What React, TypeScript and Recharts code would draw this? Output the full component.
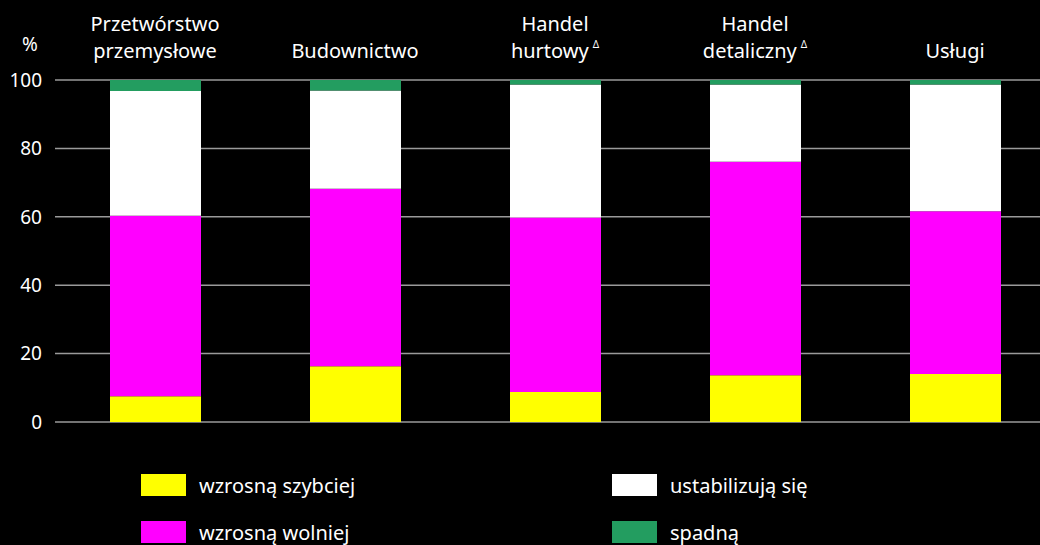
import { Bar, BarChart, CartesianGrid, Legend, XAxis, YAxis } from "recharts";

const categories = ["Przetwórstwo przemysłowe", "Budownictwo", "Handel hurtowy", "Handel detaliczny", "Usługi"];
const labelLines = [["Przetwórstwo", "przemysłowe"], ["Budownictwo"], ["Handel", "hurtowy"], ["Handel", "detaliczny"], ["Usługi"]];
const labelMarkers = [false, false, true, true, false];

const fasterValues = [7.5, 16.3, 8.8, 13.7, 14.0];
const slowerValues = [52.8, 51.9, 51.0, 62.4, 47.6];
const stableValues = [36.5, 28.7, 38.9, 22.6, 37.1];
const fallValues = [3.2, 3.1, 1.3, 1.3, 1.3];

const yTicks = [0, 20, 40, 60, 80, 100];

const series = [
  { key: "faster", name: "wzrosną szybciej", color: "#ffff00" },
  { key: "slower", name: "wzrosną wolniej", color: "#ff00ff" },
  { key: "stable", name: "ustabilizują się", color: "#ffffff" },
  { key: "fall", name: "spadną", color: "#239d60" },
];

const data = categories.map((name, i) => ({
  name,
  faster: fasterValues[i],
  slower: slowerValues[i],
  stable: stableValues[i],
  fall: fallValues[i],
}));

const FONT = "'Noto Sans', sans-serif";

function CategoryTick({ x, payload, index }: any) {
  const i = payload?.index ?? index;
  const lines = labelLines[i] || [payload.value];
  const last = lines.length - 1;
  return (
    <g>
      {lines.map((line: string, li: number) => (
        <text key={li} x={x} y={58 - (last - li) * 27} textAnchor="middle" fill="#ffffff" fontSize={20} fontFamily={FONT}>
          {line}
          {li === last && labelMarkers[i] ? (
            <tspan fontSize={10} dx={4} dy={-10}>Δ</tspan>
          ) : null}
        </text>
      ))}
    </g>
  );
}

function LegendContent() {
  const columns = [series.slice(0, 2), series.slice(2, 4)];
  return (
    <div style={{ fontFamily: FONT, fontSize: 20, color: "#ffffff" }}>
      {columns.map((col, ci) => (
        <div key={ci} style={{ position: "absolute", left: ci === 0 ? 141 : 612, top: 0 }}>
          {col.map((s) => (
            <div key={s.key} style={{ display: "flex", alignItems: "center", height: 22, marginBottom: 25, whiteSpace: "nowrap" }}>
              <span style={{ display: "inline-block", width: 45, height: 22, background: s.color, marginRight: 13 }} />
              <span>{s.name}</span>
            </div>
          ))}
        </div>
      ))}
    </div>
  );
}

export default function App() {
  return (
    <div style={{ position: "fixed", left: 0, top: 0, width: 1040, height: 545, background: "#000000", overflow: "hidden" }}>
      <BarChart width={1060} height={545} data={data} margin={{ top: 0, right: 5, left: 0, bottom: 123 }} barSize={91}>
        <CartesianGrid horizontal vertical={false} stroke="#9a9a9a" strokeWidth={1.5} />
        <XAxis dataKey="name" orientation="top" height={80} axisLine={false} tickLine={false} interval={0} tick={<CategoryTick />} />
        <YAxis
          domain={[0, 100]}
          ticks={yTicks}
          width={55}
          axisLine={false}
          tickLine={false}
          tickMargin={7}
          tick={{ fill: "#ffffff", fontSize: 19, fontFamily: FONT }}
          label={{ value: "%", position: "insideTopLeft", offset: 0, dx: 22, dy: -42, fill: "#ffffff", fontSize: 19, fontFamily: FONT }}
        />
        {series.map((s) => (
          <Bar key={s.key} dataKey={s.key} name={s.name} stackId="a" fill={s.color} isAnimationActive={false} />
        ))}
        <Legend content={<LegendContent />} wrapperStyle={{ position: "absolute", left: 0, top: 474, width: 1040 }} />
      </BarChart>
    </div>
  );
}
